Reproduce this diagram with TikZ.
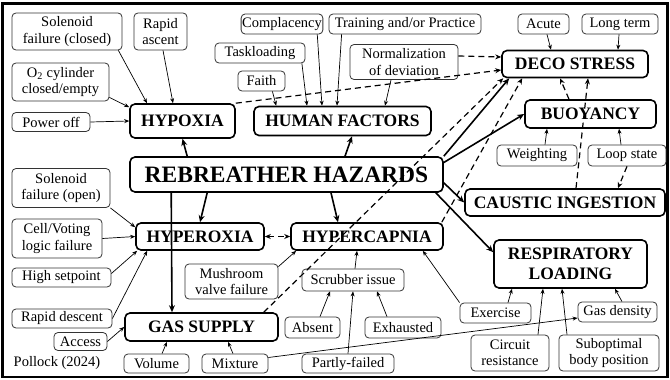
\documentclass[tikz,border=0pt]{standalone}
\usepackage{fontspec}
\setmainfont{Liberation Serif}
\usetikzlibrary{arrows.meta,calc}

\begin{document}
\begin{tikzpicture}[x=1pt,y=-1pt,
    cause/.style={draw=black!80,line width=0.8pt,rounded corners=4pt,align=center,inner sep=1pt,
      font=\fontsize{14.5}{16.5}\selectfont},
    hazard/.style={draw,line width=1.6pt,rounded corners=5pt,align=center,inner sep=1pt,
      font=\fontsize{17.5}{20}\selectfont\bfseries},
    link/.style={line width=0.7pt,-{Stealth[length=5pt,width=4pt]}},
    mainlink/.style={line width=1.6pt,-{Stealth[length=7pt,width=6pt]}},
    dashlink/.style={line width=1.2pt,dash pattern=on 6pt off 4pt,-{Stealth[length=6pt,width=5pt]}}]
    \useasboundingbox (0,0) rectangle (670,380);
    \draw[line width=2.5pt] (2.5,3.5) rectangle (667.5,377);

    \node[cause,minimum width=110,minimum height=37] (solclosed) at (67,31.5) {Solenoid\\failure (closed)};
    \node[cause,minimum width=53,minimum height=37] (ascent) at (160.5,31.5) {Rapid\\ascent};
    \node[cause,minimum width=97,minimum height=38] (otwo) at (60.5,82) {O\textsubscript{2} cylinder\\closed/empty};
    \node[cause,minimum width=78,minimum height=19] (poweroff) at (51,122) {Power off};
    \node[hazard,minimum width=105,minimum height=34] (hypoxia) at (182.5,121) {HYPOXIA};

    \node[cause,minimum width=76,minimum height=20] (complacency) at (282,24) {Complacency};
    \node[cause,minimum width=152,minimum height=20] (training) at (405,24) {Training and/or Practice};
    \node[cause,minimum width=90,minimum height=20] (taskload) at (260,53) {Taskloading};
    \node[cause,minimum width=47,minimum height=20] (faith) at (261.5,81) {Faith};
    \node[cause,minimum width=108,minimum height=35] (normal) at (404,62) {Normalization\\of deviation};
    \node[hazard,minimum width=177,minimum height=29] (human) at (342.5,121) {HUMAN FACTORS};

    \node[cause,minimum width=51,minimum height=20] (acute) at (543.5,24) {Acute};
    \node[cause,minimum width=76,minimum height=20] (longterm) at (620,24) {Long term};
    \node[hazard,minimum width=146,minimum height=27] (deco) at (575,64) {DECO STRESS};
    \node[hazard,minimum width=131,minimum height=28] (buoyancy) at (590.5,114) {BUOYANCY};
    \node[cause,minimum width=80,minimum height=21] (weighting) at (537,155.5) {Weighting};
    \node[cause,minimum width=78,minimum height=21] (loopstate) at (627,155.5) {Loop state};
    \node[hazard,minimum width=200,minimum height=27] (caustic) at (565,202.5) {CAUSTIC INGESTION};
    \node[hazard,minimum width=153,minimum height=48] (resp) at (570.5,264) {RESPIRATORY\\LOADING};

    \node[hazard,minimum width=313,minimum height=35,font=\fontsize{23.5}{26}\selectfont\bfseries]
      (hazards) at (286.5,174.5) {REBREATHER HAZARDS};

    \node[cause,minimum width=98,minimum height=39] (solopen) at (61,188) {Solenoid\\failure (open)};
    \node[cause,minimum width=90,minimum height=39] (voting) at (57,238.5) {Cell/Voting\\logic failure};
    \node[hazard,minimum width=128,minimum height=27] (hyperoxia) at (200,236.5) {HYPEROXIA};
    \node[hazard,minimum width=152,minimum height=27] (hypercapnia) at (367,236.5) {HYPERCAPNIA};
    \node[cause,minimum width=99,minimum height=19] (setpoint) at (61.5,277.5) {High setpoint};
    \node[cause,minimum width=100,minimum height=19] (descent) at (62,318.5) {Rapid descent};
    \node[cause,minimum width=93,minimum height=35] (mushroom) at (231.5,281.5) {Mushroom\\valve failure};
    \node[cause,minimum width=102,minimum height=22] (scrubber) at (353,280) {Scrubber issue};
    \node[cause,minimum width=55,minimum height=21] (absent) at (312.5,327.5) {Absent};
    \node[cause,minimum width=76,minimum height=21] (exhausted) at (403,327.5) {Exhausted};
    \node[cause,minimum width=92,minimum height=19] (partly) at (348,363.5) {Partly-failed};
    \node[cause,minimum width=71,minimum height=20] (exercise) at (495.5,313) {Exercise};
    \node[cause,minimum width=79,minimum height=20] (gasdensity) at (617.5,312) {Gas density};
    \node[cause,minimum width=78,minimum height=36] (circuit) at (510,353) {Circuit\\resistance};
    \node[cause,minimum width=100,minimum height=36] (posture) at (609,353) {Suboptimal\\body position};
    \node[cause,minimum width=53,minimum height=18] (access) at (80.5,341.5) {Access};
    \node[hazard,minimum width=153,minimum height=28] (gas) at (201.5,327) {GAS SUPPLY};
    \node[cause,minimum width=65,minimum height=19] (volume) at (156.5,363.5) {Volume};
    \node[cause,minimum width=66,minimum height=19] (mixture) at (235,363.5) {Mixture};
    \node[font=\fontsize{14.5}{16.5}\selectfont] (credit) at (57,363) {Pollock (2024)};

    \draw[link] ($(solclosed.south east)+(-4,0)$) -- ($(hypoxia.north)+(-35.5,0)$);
    \draw[link] ($(ascent.south)+(2.5,0)$) -- ($(hypoxia.north)+(-9.5,0)$);
    \draw[link] ($(otwo.south east)+(0,-4)$) -- ($(hypoxia.north west)+(0,4)$);
    \draw[link] (poweroff.east) -- (hypoxia.west);

    \draw[link] ($(complacency.south east)+(-6,0)$) -- ($(human.north)+(-20.5,0)$);
    \draw[link] ($(training.south west)+(13,0)$) -- ($(human.north)+(-5.5,0)$);
    \draw[link] ($(taskload.south east)+(-3.5,0)$) -- ($(human.north)+(-35.5,0)$);
    \draw[link] ($(faith.south east)+(-13,0)$) -- ($(human.north west)+(23,0)$);
    \draw[link] ($(normal.south)+(-13,0)$) -- ($(human.north)+(42.5,0)$);

    \draw[link] ($(acute.south)+(3.5,0)$) -- ($(deco.north)+(-24,0)$);
    \draw[link] ($(longterm.south)+(-1,0)$) -- ($(deco.north)+(43,0)$);
    \draw[link] ($(weighting.north)+(8,0)$) -- ($(buoyancy.south)+(-43.5,0)$);
    \draw[link] ($(loopstate.north)+(-6,0)$) -- ($(buoyancy.south)+(28.5,0)$);

    \draw[dashlink] (hypoxia.north east) -- ($(deco.west)+(0,6)$);
    \draw[dashlink] ($(normal.east)+(0,-6)$) -- ($(deco.west)+(0,-7)$);
    \draw[dashlink] ($(buoyancy.north)+(-21.5,0)$) -- ($(deco.south)+(-15,0)$);
    \draw[dashlink] ($(caustic.north)+(11,0)$) -- ($(deco.south)+(13,0)$);
    \draw[dashlink] (loopstate.south) -- ($(caustic.north)+(53,0)$);
    \draw[dashlink] ($(gas.north east)+(-15,0)$) -- ($(deco.south west)+(2,0)$);
    \draw[dashlink] ($(hypercapnia.north east)+(-2,0)$) -- ($(deco.south west)+(21,0)$);
    \draw[dashlink,{Stealth[length=6pt,width=5pt]}-{Stealth[length=6pt,width=5pt]}] (hyperoxia.east) -- (hypercapnia.west);

    \draw[mainlink] ($(hazards.north)+(58.5,0)$) -- ($(human.south)+(9.5,0)$);
    \draw[mainlink] ($(hazards.north west)+(58,0)$) -- (hypoxia.south);
    \draw[mainlink] ($(hazards.south west)+(42,0)$) -- ($(gas.north)+(-29.5,0)$);
    \draw[mainlink] ($(hazards.south west)+(78,0)$) -- (hyperoxia.north);
    \draw[mainlink] ($(hazards.south)+(44.5,0)$) -- ($(hypercapnia.north)+(-29,0)$);
    \draw[mainlink] (hazards.north east) -- ($(deco.south west)+(8,0)$);
    \draw[mainlink] ($(hazards.east)+(0,-12)$) -- (buoyancy.west);
    \draw[mainlink] ($(hazards.south east)+(0,-10)$) -- (caustic.west);
    \draw[mainlink] ($(hazards.south east)+(-8,0)$) -- ($(resp.north west)+(0,13)$);

    \draw[link] (solopen.south east) -- ($(hyperoxia.north west)+(0,5)$);
    \draw[link] (voting.east) -- (hyperoxia.west);
    \draw[link] ($(setpoint.east)+(0,-4)$) -- ($(hyperoxia.south west)+(2,0)$);
    \draw[link] (descent.east) -- ($(hyperoxia.south west)+(12,0)$);

    \draw[link] ($(mushroom.north east)+(0,3)$) -- ($(hypercapnia.south west)+(6,0)$);
    \draw[link] ($(scrubber.north)+(2,0)$) -- ($(hypercapnia.south)+(-10,0)$);
    \draw[link] ($(absent.north)+(7.5,0)$) -- ($(scrubber.south)+(-23,0)$);
    \draw[link] ($(exhausted.north)+(-16,0)$) -- ($(scrubber.south)+(24,0)$);
    \draw[link] (partly.north) -- (scrubber.south);
    \draw[link] (exercise.north west) -- ($(hypercapnia.south east)+(-21,0)$);

    \draw[link] ($(exercise.north)+(12.5,0)$) -- ($(resp.south)+(-58.5,0)$);
    \draw[link] ($(gasdensity.north)+(4.5,0)$) -- ($(resp.south)+(44.5,0)$);
    \draw[link] ($(circuit.north)+(28,0)$) -- ($(resp.south)+(-27.5,0)$);
    \draw[link] ($(posture.north)+(-42,0)$) -- ($(resp.south)+(-8.5,0)$);
    \draw[link] ($(mixture.east)+(0,-6)$) -- ($(gasdensity.west)+(0,6)$);

    \draw[link] (access.east) -- (gas.west);
    \draw[link] ($(volume.north)+(5.5,0)$) -- ($(gas.south)+(-34.5,0)$);
    \draw[link] ($(mixture.north)+(-2,0)$) -- ($(gas.south)+(26.5,0)$);
\end{tikzpicture}
\end{document}
